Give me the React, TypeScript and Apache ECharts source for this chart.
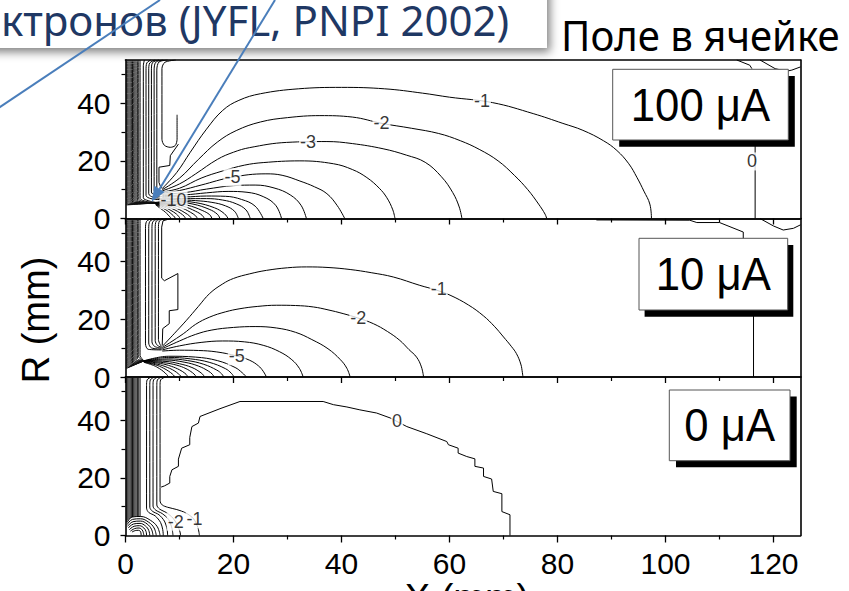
import React, { useEffect, useRef } from "react";
import * as echarts from "echarts";

type Pt = [number, number];
type Tag = [number, number, string];

// ---------- axes ----------
const X_TICKS = [0, 20, 40, 60, 80, 100, 120];
const R_TICKS = [0, 20, 40];
const X_MIN = 0;
const X_MAX = 125;
const R_MIN = 0;
const R_MAX = 55;

// ---------- panel captions (beam current) ----------
const CURRENTS = ["100 μA", "10 μA", "0 μA"];

// ---------- dense iso-lines along the electrode (x, mm) ----------
const BAND_X = [0.2, 0.42, 0.64, 0.86, 1.08, 1.3, 1.52, 1.74, 1.96, 2.2, 2.45, 2.7];

// ================= 100 μA =================
const BAND_TURN_100 = [4.7, 4.85, 5.0, 5.15, 5.3, 5.5, 5.7, 5.9, 6.1, 6.4, 6.7, 7.0];
const BAND_TIP_100: Pt = [5.6, 5.4];
const INNER_100: Pt[][] = [
  [[3.5, 55], [3.3, 53], [3.3, 7.2], [4.2, 6.2], [5.6, 5.6]],
  [[4.7, 55], [3.95, 54], [3.8, 51.5], [3.8, 8.0], [4.7, 6.9], [6.8, 6.5]],
  [[5.5, 55], [4.5, 54], [4.3, 51.5], [4.3, 8.6], [5.1, 7.4], [6.8, 7.0]],
  [[6.2, 55], [5.0, 54.1], [4.8, 51.5], [4.8, 9.2], [5.5, 8.0], [6.8, 7.6]],
  [[7.0, 55], [5.6, 54.2], [5.3, 51.5], [5.3, 9.8], [5.9, 8.7], [6.8, 8.3]],
  [[7.8, 55], [6.2, 54.3], [5.8, 51.5], [5.8, 10.5], [6.2, 9.5], [6.8, 9.2]],
  [[9.3, 55], [7.3, 54.2], [6.75, 52], [6.75, 27.5], [7.2, 25.4], [8.3, 24.7], [9.2, 25.3], [9.55, 27.5], [9.55, 36]],
];
const STEP_100: Pt[][] = [
  [[9.8, 25.8], [8.3, 21.8], [8.2, 18.4], [6.2, 17.8], [6.2, 12.5], [6.5, 11], [6.8, 10.4]],
];
const FAN_100: Pt[][] = [
  // -1
  [[6.8, 10.4], [9.5, 16], [12, 23], [15, 31], [18, 37.5], [21, 41], [25, 43.3], [32, 45], [40, 45.5], [48, 45], [55, 43.5], [60, 42.1], [68, 40.2], [75.5, 36.4], [81, 33], [84.7, 30.6], [88.5, 27], [91, 23.6], [93.2, 19], [94.7, 14.3], [96, 9.5], [97.1, 5], [97.4, 0]],
  // -2
  [[6.8, 10.0], [10, 14], [13.5, 20.5], [17, 26.5], [20.5, 30.5], [25, 33.5], [30, 35], [36, 35.7], [42, 35.2], [47.5, 33], [53, 31.3], [58, 29.5], [62, 27], [65.5, 24], [69, 20], [72, 15], [74.5, 10], [76.5, 5], [77.7, 1.5], [78, 0]],
  // -3
  [[6.8, 9.6], [10, 12], [13, 15.5], [17, 20.5], [20, 23], [23, 24.6], [29.8, 26.4], [37.3, 26.7], [42, 26], [47.7, 24.2], [52, 22], [55.5, 19.5], [58.5, 14.5], [60.6, 9], [61.8, 4], [62.3, 0]],
  // -4
  [[6.8, 9.2], [10, 10.5], [14, 14], [18, 16.5], [22, 18.5], [25.5, 19.4], [32.3, 20], [38.5, 19], [42, 17], [44.7, 14.2], [47, 10.5], [48.4, 7.2], [49.5, 3], [49.9, 0]],
  // -5
  [[6.8, 8.8], [10, 9.7], [14, 11.6], [19.7, 14.3], [26, 15.5], [29, 15], [32.3, 13], [35, 11], [37.3, 8.6], [39.2, 4.5], [40.6, 0]],
  // -6
  [[6.8, 8.4], [11, 9], [15, 10.2], [20, 11.4], [24, 11.6], [27.5, 10.6], [30.5, 8.2], [32.5, 4.6], [33.5, 0]],
  // -7
  [[6.8, 8.0], [11, 8.2], [15, 8.9], [19, 9.4], [22.5, 9.1], [25.5, 7.6], [27.8, 4.6], [28.9, 0]],
  // -8
  [[6.8, 7.6], [11, 7.5], [15, 7.8], [18.5, 7.7], [21.5, 6.6], [24, 4.3], [25.5, 0]],
  // -9
  [[6.8, 7.2], [11, 6.9], [15, 6.9], [18, 6.4], [20.5, 5.1], [22.3, 3], [23.1, 0]],
  // -10
  [[6.8, 6.8], [10, 6.5], [13, 6.2], [16, 5.6], [18.5, 4.4], [20.2, 2.5], [20.9, 0]],
];
const ARCS_100: Pt[][] = [
  [[5.6, 5.6], [9, 6.1], [13, 5.5], [16.5, 3.7], [18.3, 1.7], [19.0, 0]],
  [[5.6, 5.5], [9, 5.8], [12.5, 5.0], [15.5, 3.2], [17, 1.5], [17.5, 0]],
  [[5.6, 5.4], [8.5, 5.4], [11.5, 4.6], [14.2, 2.8], [15.6, 1.3], [16.0, 0]],
  [[5.6, 5.3], [8.3, 5.1], [10.8, 4.2], [13, 2.5], [14.2, 1.1], [14.6, 0]],
  [[5.6, 5.2], [8, 4.8], [10.2, 3.8], [12, 2.2], [13, 0.9], [13.3, 0]],
  [[5.6, 5.1], [7.8, 4.5], [9.6, 3.4], [11, 2.0], [11.9, 0.8], [12.2, 0]],
  [[5.6, 5.0], [7.5, 4.2], [9, 3.1], [10.2, 1.8], [10.9, 0.7], [11.1, 0]],
  [[5.6, 4.9], [7.2, 3.9], [8.4, 2.8], [9.4, 1.6], [9.9, 0.6], [10.1, 0]],
  [[5.6, 4.8], [6.9, 3.6], [7.9, 2.5], [8.6, 1.4], [9.1, 0.5], [9.2, 0]],
  [[5.6, 4.7], [6.6, 3.3], [7.4, 2.2], [7.9, 1.2], [8.3, 0.4], [8.4, 0]],
];
const EDGE_100: Pt[][] = [
  [[116.6, 0], [116.6, 26]],
  [[113.2, 55], [115.6, 53.2], [116, 52]],
  [[117.5, 55], [120.3, 52], [122.4, 51.1], [123.4, 51.5], [125, 52.6]],
];
const TAGS_100: Tag[] = [
  [66, 40.6, "-1"],
  [47.4, 33.2, "-2"],
  [33.8, 26.5, "-3"],
  [19.8, 14.3, "-5"],
  [8.9, 6.4, "-10"],
  [116, 19.8, "0"],
];

// ================= 10 μA =================
const BAND_TURN_10 = [3.0, 3.3, 3.6, 3.9, 4.2, 4.6, 5.0, 5.4, 5.9, 6.4, 6.9, 7.4];
const BAND_TIP_10: Pt = [3.4, 5.6];
const INNER_10: Pt[][] = [
  [[4.8, 55], [3.9, 54], [3.7, 51.5], [3.7, 11.5], [4.2, 9.6], [6.7, 9.4]],
  [[5.5, 55], [4.5, 54], [4.3, 51.5], [4.3, 11.8], [4.8, 10.1], [6.7, 9.7]],
  [[6.2, 55], [5.1, 54], [4.9, 51.5], [4.9, 12.2], [5.4, 10.6], [6.7, 10.0]],
  [[6.9, 55], [5.7, 54.1], [5.5, 51.5], [5.5, 12.6], [5.9, 11.0], [6.7, 10.3]],
  [[7.7, 55], [6.3, 54.2], [6.1, 51.5], [6.1, 13.0], [6.4, 11.3], [6.7, 10.6]],
];
const STEP_10: Pt[][] = [
  [[8.4, 55], [6.95, 54.2], [6.7, 52], [6.7, 34.3], [7.2, 33.4], [9.7, 35.9], [9.7, 23.4], [8.1, 23], [8.1, 18.5], [6.9, 16.8], [6.8, 11]],
];
const FAN_10: Pt[][] = [
  // -1
  [[6.8, 10.6], [9, 15], [11.3, 19.7], [13.5, 24.5], [15.6, 29], [18, 32.3], [20, 34.2], [23, 35.8], [26.1, 37], [30, 37.9], [33.5, 38.2], [37.5, 38], [41.6, 37.3], [45.5, 36.2], [49.6, 34.7], [54.5, 31.8], [57.5, 30.2], [60.1, 28.4], [63.5, 25], [66.3, 21.2], [68.3, 17.6], [70, 13.9], [71.5, 10.5], [72.4, 8.1], [73.2, 4.5], [73.5, 1.5], [73.6, 0]],
  // -2
  [[6.8, 10.2], [10.7, 15], [13, 18.3], [15.6, 20.8], [18.5, 22.6], [21.2, 23.7], [24.5, 24.5], [28, 24.9], [31.5, 24.8], [34.8, 24.3], [37.5, 23.3], [40.3, 22], [43, 20.5], [45.9, 18.5], [48.5, 15.8], [50.8, 12.7], [52.5, 9.5], [53.9, 6.9], [54.8, 3.5], [55.2, 0]],
  // -3
  [[6.8, 9.8], [10, 12.5], [13, 14.8], [16, 16.3], [20, 17.2], [24, 17.5], [28, 17], [31.5, 15.5], [34.5, 13], [37.5, 9.8], [39.8, 6], [41, 3], [41.6, 0]],
  // -4
  [[6.8, 9.4], [10, 10.8], [14, 12], [18, 12.5], [22, 12.2], [25.5, 11], [28.5, 8.8], [30.8, 6], [32.2, 3], [32.9, 0]],
  // -5
  [[6.8, 9.0], [10, 9.3], [13.5, 9.2], [16.9, 8.7], [20.6, 7.3], [23, 5.8], [24.6, 3.9], [25.5, 2.0], [26.1, 0]],
];
const ARCS_10: Pt[][] = [
  [[3.4, 5.6], [8, 7.2], [13, 6.9], [17, 5.7], [20.3, 3.3], [21.6, 1.5], [22.4, 0]],
  [[3.4, 5.6], [8, 6.8], [12, 6.3], [15.5, 5.1], [18.5, 2.9], [19.6, 1.3], [20.1, 0]],
  [[3.4, 5.6], [8, 6.3], [11.5, 5.7], [14.5, 4.4], [16.9, 2.4], [17.8, 1.1], [18.2, 0]],
  [[3.4, 5.6], [7.5, 5.9], [11, 5.1], [13.5, 3.8], [15.4, 2.0], [16.1, 0.9], [16.4, 0]],
  [[3.4, 5.6], [7.5, 5.4], [10, 4.6], [12.3, 3.3], [13.8, 1.7], [14.4, 0.7], [14.6, 0]],
  [[3.4, 5.5], [7, 5.0], [9.5, 4.1], [11.2, 2.9], [12.4, 1.5], [12.9, 0.6], [13.1, 0]],
  [[3.4, 5.4], [6.5, 4.7], [8.5, 3.7], [10, 2.5], [11, 1.3], [11.4, 0.5], [11.5, 0]],
  [[3.4, 5.3], [6, 4.4], [7.8, 3.3], [9, 2.2], [9.8, 1.1], [10.2, 0.4], [10.3, 0]],
  [[3.4, 5.2], [5.6, 4.2], [7, 3.1], [8, 2], [8.7, 1], [9, 0.4], [9.1, 0]],
  [[3.4, 5.1], [5.2, 4.0], [6.3, 2.9], [7.1, 1.8], [7.6, 0.9], [7.85, 0.3], [7.9, 0]],
];
const EDGE_10: Pt[][] = [
  [[116.3, 0], [116.3, 24]],
  [[87.2, 54.5], [104.5, 54.4], [105.8, 53.6], [110, 53.6], [114.4, 50.3], [114.4, 47]],
  [[117.5, 55], [120, 52.4], [121.8, 51], [123.7, 51.6], [125, 52.8]],
];
const TAGS_10: Tag[] = [
  [58, 30.4, "-1"],
  [43.1, 20.4, "-2"],
  [20.6, 7.2, "-5"],
];

// ================= 0 μA =================
const BAND_END_0 = [4.6, 5.2, 5.7, 6.1, 6.3, 6.4, 6.5, 6.6, 6.6, 6.6, 6.5, 6.4];
const ARCS_0: Pt[][] = [
  [[0.3, 4.5], [1.2, 6.4], [2.8, 6.6], [4.6, 5.3], [5.9, 3], [6.4, 0]],
  [[0.3, 3.8], [1.3, 5.6], [2.8, 5.8], [4.3, 4.6], [5.3, 2.6], [5.7, 0]],
  [[0.4, 3.2], [1.4, 4.8], [2.8, 5.0], [4.0, 4.0], [4.8, 2.2], [5.1, 0]],
  [[0.5, 2.6], [1.5, 4.0], [2.7, 4.2], [3.7, 3.3], [4.3, 1.8], [4.5, 0]],
  [[0.7, 2.0], [1.6, 3.2], [2.6, 3.4], [3.4, 2.6], [3.8, 1.4], [3.9, 0]],
  [[0.9, 1.5], [1.7, 2.4], [2.5, 2.6], [3.1, 1.9], [3.3, 1.0], [3.4, 0]],
  [[1.2, 1.2], [1.8, 1.7], [2.4, 1.8], [2.8, 1.3], [2.9, 0]],
];
const INNER_0: Pt[][] = [
  [[4.8, 55], [4.0, 54], [3.9, 52], [3.9, 9.5], [4.3, 8], [5.5, 6.8], [6.5, 4.5], [6.9, 2], [7.0, 0]],
  [[5.4, 55], [4.6, 54], [4.5, 52], [4.5, 9.8], [5.0, 8.4], [6.2, 7.2], [7.2, 5], [7.7, 2.2], [7.8, 0]],
  [[6.0, 55], [5.2, 54], [5.1, 52], [5.1, 10.2], [5.6, 8.8], [6.8, 7.6], [8, 5.5], [8.6, 2.5], [8.8, 0]],
  // -2
  [[6.7, 55], [5.9, 54], [5.8, 52], [5.8, 10.6], [6.3, 9.2], [7.6, 7.9], [8.8, 6], [9.7, 3.3], [10.1, 1.2], [10.2, 0]],
  // -1
  [[7.4, 55], [6.5, 54], [6.4, 52], [6.4, 12], [6.8, 10.6], [7.8, 9.8], [9.5, 9], [11.2, 7.8], [12.6, 5.8], [13.4, 2.8], [13.7, 0]],
];
const ZERO_0: Pt[] = [
  [6.6, 16.8], [7.2, 17.2], [8.2, 18.2], [8.2, 20.5], [8.6, 22.8], [9.8, 24], [9.8, 26.5], [10.4, 30.3], [11.9, 31.5], [11.9, 34],
  [12.3, 37.8], [13.5, 39], [13.8, 41.3], [17.5, 44], [21.2, 46.5], [36.6, 46.5], [38.5, 45.4], [41, 44.6], [43.4, 43.6], [46.5, 42.5],
  [49, 40.8], [52.1, 37.8], [55.8, 35.3], [59.5, 32.6], [59.8, 31.5], [61.6, 30.3], [61.6, 28.6], [63.2, 27.4], [64.7, 26.6], [64.7, 24],
  [66.3, 23.4], [66.3, 20.5], [67.8, 19.6], [68.1, 15.3], [69.7, 14.5], [69.7, 8.3], [71.2, 7.2], [71.2, 0],
];
const TAGS_0: Tag[] = [
  [50.3, 39.8, "0"],
  [9.3, 4.8, "-2"],
  [12.8, 5.6, "-1"],
];

// ---------- styling ----------
const AXIS_FONT = '"Liberation Sans", Arial, sans-serif';
const SLIDE_FONT = '"Noto Sans", "Open Sans", sans-serif';
const ARROW_BLUE = "#4A7EBB";
const TITLE_BLUE = "#1F3864";

const GRID_LEFT = 125.5;
const GRID_WIDTH = 675;
const GRID_TOPS = [60, 218.5, 377];
const GRID_HEIGHT = 158.5;

function lineSeries(lines: Pt[][], grid: number, smooth: number | boolean, color = "#000", width = 1) {
  return lines.map((pts) => ({
    type: "line",
    xAxisIndex: grid,
    yAxisIndex: grid,
    data: pts,
    symbol: "none",
    showSymbol: false,
    smooth,
    clip: true,
    silent: true,
    z: 2,
    lineStyle: { color, width },
    emphasis: { disabled: true },
  }));
}

function bandToTip(turns: number[], tip: Pt): Pt[][] {
  return BAND_X.map((x, i) => [[x, R_MAX], [x, turns[i]], tip] as Pt[]);
}

function bandStraight(ends: number[]): Pt[][] {
  return BAND_X.map((x, i) => [[x, R_MAX], [x, ends[i]]] as Pt[]);
}

function tagSeries(tags: Tag[], grid: number) {
  return {
    type: "scatter",
    xAxisIndex: grid,
    yAxisIndex: grid,
    data: tags.map(([x, r, t]) => ({ name: t, value: [x, r] })),
    symbol: "rect",
    symbolSize: 1,
    itemStyle: { color: "rgba(0,0,0,0)" },
    label: {
      show: true,
      position: "inside",
      formatter: "{b}",
      color: "#000",
      fontFamily: AXIS_FONT,
      fontSize: 18,
      lineHeight: 18,
      backgroundColor: "#fff",
      padding: [0, 1],
    },
    silent: true,
    z: 6,
  };
}

function buildOption() {
  const grids = GRID_TOPS.map((top) => ({ left: GRID_LEFT, top, width: GRID_WIDTH, height: GRID_HEIGHT }));
  const frame = { color: "#000", width: 1.6 };

  const xAxes: any[] = [];
  const yAxes: any[] = [];
  for (let g = 0; g < 3; g++) {
    const last = g === 2;
    xAxes.push({
      type: "value",
      gridIndex: g,
      min: X_MIN,
      max: X_MAX,
      interval: 20,
      position: "bottom",
      axisLine: { show: true, onZero: false, lineStyle: frame },
      axisTick: { show: true, inside: false, length: last ? 7 : 6, customValues: X_TICKS, lineStyle: { color: "#000", width: 1.3 } },
      minorTick: { show: true, splitNumber: 2, length: 4, lineStyle: { color: "#000", width: 1.2 } },
      axisLabel: { show: last, customValues: X_TICKS, color: "#000", fontFamily: AXIS_FONT, fontSize: 30, margin: 13 },
      splitLine: { show: false },
      minorSplitLine: { show: false },
    });
  }
  for (let g = 0; g < 3; g++) {
    xAxes.push({
      type: "value",
      gridIndex: g,
      min: X_MIN,
      max: X_MAX,
      position: "top",
      axisLine: { show: true, onZero: false, lineStyle: frame },
      axisTick: { show: false },
      axisLabel: { show: false },
      splitLine: { show: false },
    });
  }
  for (let g = 0; g < 3; g++) {
    yAxes.push({
      type: "value",
      gridIndex: g,
      min: R_MIN,
      max: R_MAX,
      interval: 20,
      position: "left",
      axisLine: { show: true, onZero: false, lineStyle: frame },
      axisTick: { show: true, inside: false, length: 5, customValues: R_TICKS, lineStyle: { color: "#000", width: 1.3 } },
      minorTick: { show: true, splitNumber: 2, length: 4, lineStyle: { color: "#000", width: 1.2 } },
      axisLabel: { show: true, customValues: R_TICKS, color: "#000", fontFamily: AXIS_FONT, fontSize: 30, margin: 15 },
      splitLine: { show: false },
      minorSplitLine: { show: false },
    });
  }
  for (let g = 0; g < 3; g++) {
    yAxes.push({
      type: "value",
      gridIndex: g,
      min: R_MIN,
      max: R_MAX,
      position: "right",
      axisLine: { show: true, onZero: false, lineStyle: frame },
      axisTick: { show: false },
      axisLabel: { show: false },
      splitLine: { show: false },
    });
  }

  const band = "#111";
  const series: any[] = [
    // 100 μA
    ...lineSeries(bandToTip(BAND_TURN_100, BAND_TIP_100), 0, 0.2, band),
    ...lineSeries(INNER_100, 0, 0.3),
    ...lineSeries(STEP_100, 0, false),
    ...lineSeries(FAN_100, 0, 0.4),
    ...lineSeries(ARCS_100, 0, 0.4),
    ...lineSeries(EDGE_100, 0, false),
    tagSeries(TAGS_100, 0),
    // 10 μA
    ...lineSeries(bandToTip(BAND_TURN_10, BAND_TIP_10), 1, 0.2, band),
    ...lineSeries(INNER_10, 1, 0.3),
    ...lineSeries(STEP_10, 1, false),
    ...lineSeries(FAN_10, 1, 0.4),
    ...lineSeries(ARCS_10, 1, 0.4),
    ...lineSeries(EDGE_10, 1, false),
    tagSeries(TAGS_10, 1),
    // 0 μA
    ...lineSeries(bandStraight(BAND_END_0), 2, false, band),
    ...lineSeries(ARCS_0, 2, 0.4),
    ...lineSeries(INNER_0, 2, 0.3),
    ...lineSeries([ZERO_0], 2, false),
    tagSeries(TAGS_0, 2),
  ];

  // caption boxes with a hard drop shadow
  const boxes = [
    { x: 612.7, y: 69.3, w: 175.6, h: 70.7, dx: 6.5, dy: 6.7 },
    { x: 639, y: 238.3, w: 148.7, h: 71.7, dx: 5.6, dy: 6.7 },
    { x: 669.3, y: 390, w: 120.7, h: 70.7, dx: 6.7, dy: 6.6 },
  ];
  const captionEls: any[] = [];
  boxes.forEach((b, i) => {
    captionEls.push({
      type: "rect",
      z: 100,
      shape: { x: b.x + b.dx, y: b.y + b.dy, width: b.w, height: b.h },
      style: { fill: "#000" },
    });
    captionEls.push({
      type: "rect",
      z: 101,
      shape: { x: b.x, y: b.y, width: b.w, height: b.h },
      style: { fill: "#fff", stroke: "#555", lineWidth: 1 },
    });
    captionEls.push({
      type: "text",
      z: 102,
      x: b.x + b.w / 2,
      y: b.y + b.h / 2,
      scaleX: 0.93,
      style: {
        text: CURRENTS[i],
        fill: "#000",
        fontFamily: AXIS_FONT,
        fontSize: 47,
        align: "center",
        verticalAlign: "middle",
      },
    });
  });

  const graphic: any[] = [
    // slide header box and texts
    {
      type: "rect",
      z: 100,
      shape: { x: -20, y: -20, width: 567, height: 68 },
      style: { fill: "#fff", shadowBlur: 10, shadowColor: "rgba(0,0,0,0.5)", shadowOffsetX: 3, shadowOffsetY: 4 },
    },
    {
      type: "text",
      z: 101,
      x: 1,
      y: 19,
      style: {
        text: "ктронов (JYFL, PNPI 2002)",
        fill: TITLE_BLUE,
        fontFamily: SLIDE_FONT,
        fontSize: 42,
        align: "left",
        verticalAlign: "middle",
      },
    },
    {
      type: "text",
      z: 101,
      x: 561,
      y: 35,
      scaleX: 0.955,
      style: {
        text: "Поле в ячейке",
        fill: "#000",
        fontFamily: SLIDE_FONT,
        fontSize: 42,
        align: "left",
        verticalAlign: "middle",
      },
    },
    // pointer lines
    {
      type: "line",
      z: 110,
      shape: { x1: -5, y1: 110.3, x2: 160, y2: 0 },
      style: { stroke: ARROW_BLUE, lineWidth: 2 },
    },
    {
      type: "line",
      z: 110,
      shape: { x1: 275, y1: 0, x2: 159.5, y2: 188.9 },
      style: { stroke: ARROW_BLUE, lineWidth: 2 },
    },
    {
      type: "polygon",
      z: 110,
      shape: { points: [[151.7, 201.7], [164.6, 192.0], [154.4, 185.8]] },
      style: { fill: ARROW_BLUE },
    },
    ...captionEls,
    // axis titles
    {
      type: "text",
      z: 100,
      x: 36,
      y: 320,
      rotation: Math.PI / 2,
      style: { text: "R (mm)", fill: "#000", fontFamily: AXIS_FONT, fontSize: 38, align: "center", verticalAlign: "middle" },
    },
    {
      type: "text",
      z: 100,
      x: 467,
      y: 598,
      style: { text: "X (mm)", fill: "#000", fontFamily: AXIS_FONT, fontSize: 38, align: "center", verticalAlign: "middle" },
    },
  ];

  return {
    animation: false,
    backgroundColor: "#fff",
    grid: grids,
    xAxis: xAxes,
    yAxis: yAxes,
    series,
    graphic,
  };
}

export default function App() {
  const ref = useRef<HTMLDivElement>(null);
  useEffect(() => {
    if (!ref.current) return;
    const chart = echarts.init(ref.current, undefined, { renderer: "svg" });
    chart.setOption(buildOption() as any);
    return () => chart.dispose();
  }, []);
  return <div ref={ref} style={{ position: "absolute", left: 0, top: 0, width: 849, height: 591 }} />;
}
